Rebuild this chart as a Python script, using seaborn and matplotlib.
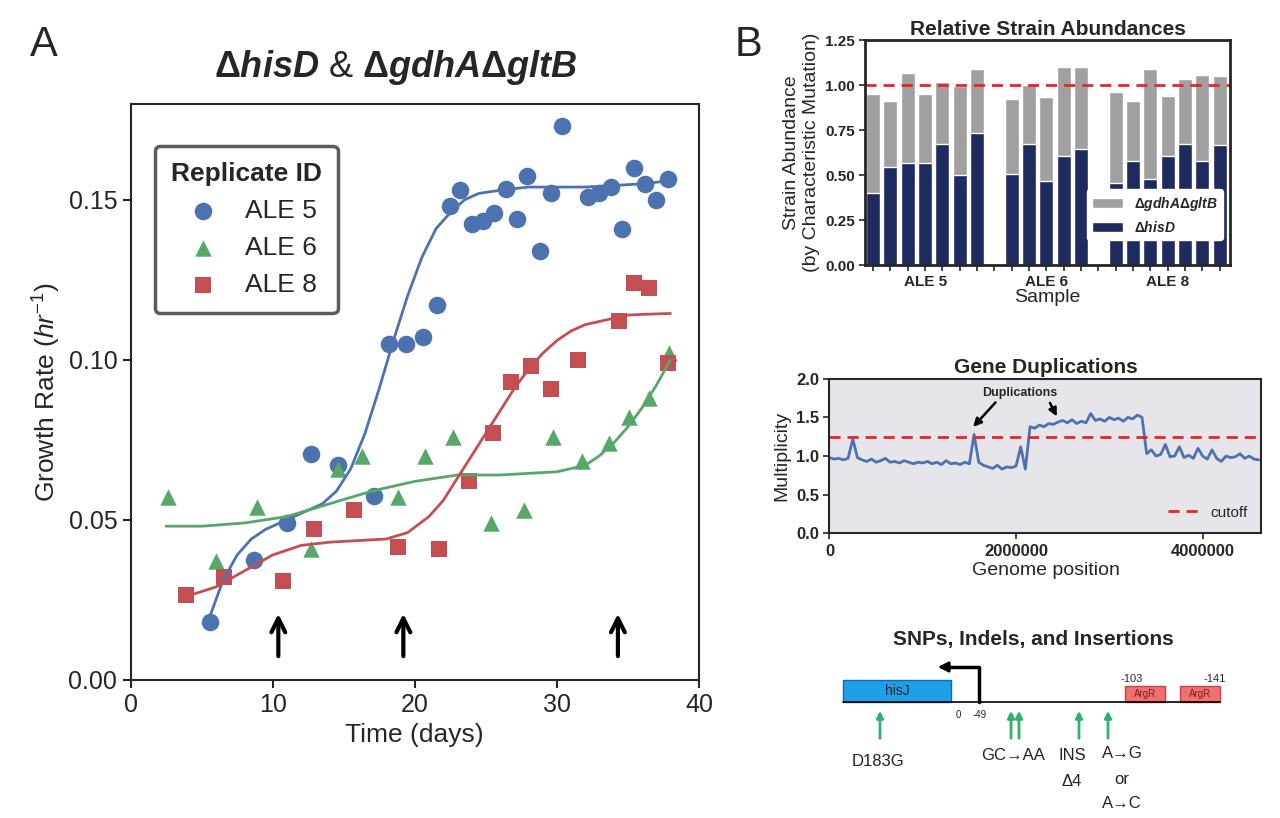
import numpy as np
import pandas as pd
import matplotlib
matplotlib.use("Agg")
import matplotlib.pyplot as plt
import matplotlib.patches as mpatches
import seaborn as sns

sns.set_theme(style="ticks")
plt.rcParams['font.family'] = ['Liberation Sans', 'DejaVu Sans']
plt.rcParams['mathtext.fontset'] = 'custom'
plt.rcParams['mathtext.rm'] = 'Liberation Sans'
plt.rcParams['mathtext.it'] = 'Liberation Sans:italic'
plt.rcParams['mathtext.bf'] = 'Liberation Sans:bold'
plt.rcParams['mathtext.bfit'] = 'Liberation Sans:italic:bold'

# ---------------- Panel A data ----------------
ale5_day = [5.6, 8.7, 11.0, 12.7, 14.6, 17.1, 18.2, 19.4, 20.6, 21.6, 22.5, 23.2, 24.0, 24.8, 25.6,
            26.4, 27.2, 27.9, 28.8, 29.6, 30.4, 32.2, 33.0, 33.8, 34.6, 35.4, 36.2, 37.0, 37.8]
ale5_rate = [0.018, 0.0375, 0.049, 0.0705, 0.067, 0.0575, 0.105, 0.105, 0.107, 0.117, 0.148, 0.153,
             0.1425, 0.1435, 0.146, 0.1535, 0.144, 0.1575, 0.134, 0.152, 0.173, 0.151, 0.152, 0.154,
             0.141, 0.160, 0.155, 0.150, 0.1565]
ale6_day = [2.6, 6.0, 8.9, 12.7, 14.6, 16.3, 18.8, 20.7, 22.7, 25.4, 27.7, 29.7, 31.8, 33.7, 35.1, 36.5, 37.9]
ale6_rate = [0.057, 0.037, 0.054, 0.041, 0.066, 0.070, 0.057, 0.070, 0.076, 0.049, 0.053, 0.076,
             0.0685, 0.074, 0.082, 0.088, 0.102]
ale8_day = [3.9, 6.6, 10.7, 12.9, 15.7, 18.8, 21.7, 23.8, 25.5, 26.8, 28.2, 29.6, 31.5, 34.4, 35.4, 36.5, 37.8]
ale8_rate = [0.0266, 0.032, 0.031, 0.047, 0.053, 0.0416, 0.041, 0.062, 0.077, 0.093, 0.098, 0.091,
             0.100, 0.112, 0.124, 0.1225, 0.099]

# fitted curves
fit5_day = [5.6, 6.5, 7.5, 8.5, 9.5, 10.5, 11.5, 12.5, 13.5, 14.5, 15.5, 16.5, 17.5, 18.5, 19.5,
            20.5, 21.5, 22.5, 23.5, 24.5, 26, 28, 30, 32, 34, 36, 38]
fit5_rate = [0.020, 0.031, 0.039, 0.044, 0.047, 0.049, 0.051, 0.053, 0.055, 0.059, 0.066, 0.077,
             0.091, 0.106, 0.120, 0.132, 0.141, 0.146, 0.150, 0.152, 0.153, 0.154, 0.154, 0.154,
             0.1545, 0.155, 0.156]
fit6_day = [2.5, 5, 8, 11, 14, 17, 20, 23, 26, 28, 30, 32, 33, 34, 35, 36, 37, 38]
fit6_rate = [0.048, 0.048, 0.049, 0.051, 0.055, 0.059, 0.062, 0.064, 0.064, 0.0645, 0.065, 0.067,
             0.070, 0.074, 0.079, 0.085, 0.092, 0.100]
fit8_day = [3.9, 6, 8, 10, 12, 14, 16, 18, 19.5, 21, 22, 23, 24, 25, 26, 27, 28, 29, 30, 31, 32, 33,
            34, 35, 36, 38]
fit8_rate = [0.026, 0.029, 0.034, 0.039, 0.042, 0.043, 0.0435, 0.044, 0.046, 0.051, 0.056, 0.063,
             0.070, 0.077, 0.084, 0.091, 0.097, 0.102, 0.106, 0.109, 0.111, 0.112, 0.113, 0.114,
             0.1142, 0.1145]

arrow_days = [10.4, 19.2, 34.3]

# ---------------- Panel B data ----------------
bar_pos = [0, 1, 2, 3, 4, 5, 6, 8, 9, 10, 11, 12, 14, 15, 16, 17, 18, 19, 20]
bar_total = [0.948, 0.913, 1.065, 0.948, 1.019, 0.994, 1.087,
             0.924, 1.0, 0.935, 1.098, 1.098,
             0.959, 0.913, 1.087, 0.939, 1.031, 1.056, 1.05]
bar_hisd = [0.402, 0.543, 0.565, 0.565, 0.670, 0.502, 0.731,
            0.506, 0.672, 0.469, 0.606, 0.643,
            0.454, 0.576, 0.48, 0.604, 0.672, 0.58, 0.669]
group_ticks = [3, 10, 17]
group_labels = ['ALE 5', 'ALE 6', 'ALE 8']

mult_step = 50000
multiplicity = [0.98, 0.96, 0.97, 0.95, 0.97, 1.22, 0.98, 0.95, 0.93, 0.96, 0.92, 0.94, 0.97, 0.92,
                0.93, 0.91, 0.94, 0.92, 0.90, 0.92, 0.91, 0.93, 0.90, 0.92, 0.89, 0.94, 0.90, 0.91,
                0.89, 0.92, 0.90, 1.28, 0.92, 0.88, 0.86, 0.84, 0.88, 0.83, 0.86, 0.85, 0.87, 1.12,
                0.83, 1.38, 1.36, 1.40, 1.38, 1.42, 1.41, 1.44, 1.46, 1.43, 1.47, 1.42, 1.45, 1.43,
                1.55, 1.46, 1.48, 1.45, 1.50, 1.47, 1.49, 1.45, 1.50, 1.48, 1.53, 1.50, 1.03, 1.08,
                1.00, 1.02, 1.15, 0.99, 1.00, 1.12, 0.98, 1.01, 0.97, 1.10, 1.00, 0.96, 1.08, 0.97,
                0.93, 1.00, 0.98, 0.99, 1.03, 0.97, 1.00, 0.96, 0.95]
cutoff = 1.25

pal = sns.color_palette("deep")
c5, c6, c8 = pal[0], pal[2], pal[3]

fig = plt.figure(figsize=(12.8, 8.18), dpi=100)

# ---------------- Panel A ----------------
axA = fig.add_axes([0.102, 0.169, 0.444, 0.704])
sns.lineplot(x=fit5_day, y=fit5_rate, color=c5, lw=2, ax=axA, sort=False, estimator=None)
sns.lineplot(x=fit6_day, y=fit6_rate, color=c6, lw=2, ax=axA, sort=False, estimator=None)
sns.lineplot(x=fit8_day, y=fit8_rate, color=c8, lw=2, ax=axA, sort=False, estimator=None)
sns.scatterplot(x=ale5_day, y=ale5_rate, color=c5, marker='o', s=160, linewidth=0, ax=axA, label='ALE 5')
sns.scatterplot(x=ale6_day, y=ale6_rate, color=c6, marker='^', s=140, linewidth=0, ax=axA, label='ALE 6')
sns.scatterplot(x=ale8_day, y=ale8_rate, color=c8, marker='s', s=140, linewidth=0, ax=axA, label='ALE 8')
for d in arrow_days:
    axA.annotate('', xy=(d, 0.0215), xytext=(d, 0.0065),
                 arrowprops=dict(arrowstyle='->', lw=3, color='black', mutation_scale=25))
axA.set_xlim(0, 40)
axA.set_ylim(0, 0.18)
axA.set_xticks([0, 10, 20, 30, 40])
axA.set_yticks([0, 0.05, 0.10, 0.15])
axA.set_yticklabels(['0.00', '0.05', '0.10', '0.15'])
axA.tick_params(labelsize=18, width=1.5, length=6)
for s in axA.spines.values():
    s.set_linewidth(1.5)
axA.set_xlabel('Time (days)', fontsize=19)
axA.set_ylabel(r'Growth Rate ($hr^{-1}$)', fontsize=19)
leg = axA.legend(title='Replicate ID', loc='upper left', bbox_to_anchor=(0.02, 0.95),
                 fontsize=19, title_fontsize=19, frameon=True, handletextpad=0.6,
                 borderpad=0.6, markerscale=1.0, fancybox=True)
leg.get_title().set_fontweight('bold')
leg.get_frame().set_edgecolor('#333333')
leg.get_frame().set_linewidth(2.5)
fig.text(0.309, 0.917,
         r'$\mathbf{\Delta}\mathbfit{hisD}$ & $\mathbf{\Delta}\mathbfit{gdhA}\mathbf{\Delta}\mathbfit{gltB}$',
         fontsize=26, ha='center', va='center')
fig.text(0.023, 0.945, 'A', fontsize=30, va='center')
fig.text(0.574, 0.945, 'B', fontsize=30, va='center')

# ---------------- Panel B: abundances ----------------
axB = fig.add_axes([0.676, 0.676, 0.285, 0.275])
dfb = pd.DataFrame({'pos': bar_pos, 'total': bar_total, 'hisd': bar_hisd})
sns.barplot(data=dfb, x='pos', y='total', native_scale=True, color='#a0a0a0', width=0.8,
            saturation=1, ax=axB, label=r'$\mathbf{\Delta}\mathbfit{gdhA}\mathbf{\Delta}\mathbfit{gltB}$')
sns.barplot(data=dfb, x='pos', y='hisd', native_scale=True, color='#1f2a5e', width=0.8,
            saturation=1, ax=axB, label=r'$\mathbf{\Delta}\mathbfit{hisD}$')
axB.axhline(1.0, color='#e8242a', ls='--', lw=2, dashes=(4, 2.5))
axB.set_xlim(-0.45, 20.6)
axB.set_ylim(0, 1.25)
axB.set_yticks([0, 0.25, 0.5, 0.75, 1.0, 1.25])
axB.set_yticklabels(['0.00', '0.25', '0.50', '0.75', '1.00', '1.25'], fontweight='bold')
axB.set_xticks(range(21))
axB.set_xticklabels([group_labels[group_ticks.index(i)] if i in group_ticks else '' for i in range(21)],
                    fontweight='bold')
axB.tick_params(labelsize=11, width=1.2, length=4)
for s in axB.spines.values():
    s.set_linewidth(2)
axB.set_title('Relative Strain Abundances', fontsize=15, fontweight='bold', pad=4)
axB.set_xlabel('Sample', fontsize=14, labelpad=0)
axB.set_ylabel('Strain Abundance\n(by Characteristic Mutation)', fontsize=14, labelpad=4)
lb = axB.legend(loc='lower right', fontsize=10, frameon=True, framealpha=1, borderpad=0.4,
                bbox_to_anchor=(1.0, 0.08), handlelength=2.2)
lb.get_frame().set_edgecolor('white')

# ---------------- Panel B: duplications ----------------
axD = fig.add_axes([0.648, 0.348, 0.3375, 0.189])
axD.set_facecolor('#e6e6ea')
gpos = np.arange(len(multiplicity)) * mult_step
sns.lineplot(x=gpos, y=multiplicity, color=c5, lw=2, ax=axD, estimator=None)
axD.axhline(cutoff, color='#e8242a', ls='--', lw=2, dashes=(4, 2.5), label='cutoff')
axD.set_xlim(0, 4.63e6)
axD.set_ylim(0, 2.0)
axD.set_yticks([0, 0.5, 1.0, 1.5, 2.0])
axD.set_xticks([0, 2000000, 4000000])
axD.set_xticklabels(['0', '2000000', '4000000'], fontweight='bold')
axD.set_yticklabels(['0.0', '0.5', '1.0', '1.5', '2.0'], fontweight='bold')
axD.tick_params(labelsize=12, width=1.2, length=4)
for s in axD.spines.values():
    s.set_linewidth(1.5)
axD.set_title('Gene Duplications', fontsize=15, fontweight='bold', pad=4)
axD.set_xlabel('Genome position', fontsize=14, labelpad=2)
axD.set_ylabel('Multiplicity', fontsize=14)
axD.text(2.04e6, 1.81, 'Duplications', fontsize=9, fontweight='bold', ha='center', va='center')
axD.annotate('', xy=(1.52e6, 1.35), xytext=(1.8e6, 1.72),
             arrowprops=dict(arrowstyle='-|>', lw=1.8, color='black'))
axD.annotate('', xy=(2.45e6, 1.48), xytext=(2.35e6, 1.72),
             arrowprops=dict(arrowstyle='-|>', lw=1.8, color='black'))
axD.legend(loc='lower right', fontsize=11, frameon=False, handlelength=2)

# ---------------- Panel B: SNP schematic ----------------
axS = fig.add_axes([0, 0, 1, 1])
axS.set_xlim(0, 1280)
axS.set_ylim(818, 0)
axS.axis('off')
axS.patch.set_alpha(0)
axS.text(1033, 640, 'SNPs, Indels, and Insertions', fontsize=15, fontweight='bold', ha='center', va='center')
axS.plot([843, 1220], [702, 702], color='black', lw=1.2)
axS.add_patch(mpatches.Rectangle((843, 680), 108, 22, facecolor='#1ea0e6', edgecolor='#1565c0', lw=1))
axS.text(897, 691, 'hisJ', fontsize=10, ha='center', va='center', color='#222222')
for x0 in [1125, 1180]:
    axS.add_patch(mpatches.Rectangle((x0, 686), 40, 16, facecolor='#f07070', edgecolor='#d04040', lw=1))
    axS.text(x0 + 20, 694, 'ArgR', fontsize=7, ha='center', va='center', color='#7a2020')
axS.text(1132, 679, '-103', fontsize=8, ha='center', va='center')
axS.text(1215, 679, '-141', fontsize=8, ha='center', va='center')
axS.text(958, 715, '0', fontsize=7, ha='center', va='center')
axS.text(980, 715, '-49', fontsize=7, ha='center', va='center')
axS.plot([979, 979, 945], [702, 667, 667], color='black', lw=2.5)
axS.annotate('', xy=(935, 667), xytext=(950, 667),
             arrowprops=dict(arrowstyle='-|>', lw=2, color='black', mutation_scale=15))
for xa in [880, 1011, 1019, 1079, 1108]:
    axS.annotate('', xy=(xa, 708), xytext=(xa, 741),
                 arrowprops=dict(arrowstyle='-|>', lw=2, color='#2cb36f', mutation_scale=10))
axS.text(878, 762, 'D183G', fontsize=12, ha='center', va='center', color='#222222')
axS.text(1013, 755, 'GC→AA', fontsize=12, ha='center', va='center', color='#222222')
axS.text(1072, 755, 'INS', fontsize=12, ha='center', va='center', color='#222222')
axS.text(1072, 782, 'Δ4', fontsize=12, ha='center', va='center', color='#222222')
axS.text(1122, 753, 'A→G', fontsize=12, ha='center', va='center', color='#222222')
axS.text(1122, 779, 'or', fontsize=12, ha='center', va='center', color='#222222')
axS.text(1122, 804, 'A→C', fontsize=12, ha='center', va='center', color='#222222')

fig.savefig('out.png', dpi=100)
